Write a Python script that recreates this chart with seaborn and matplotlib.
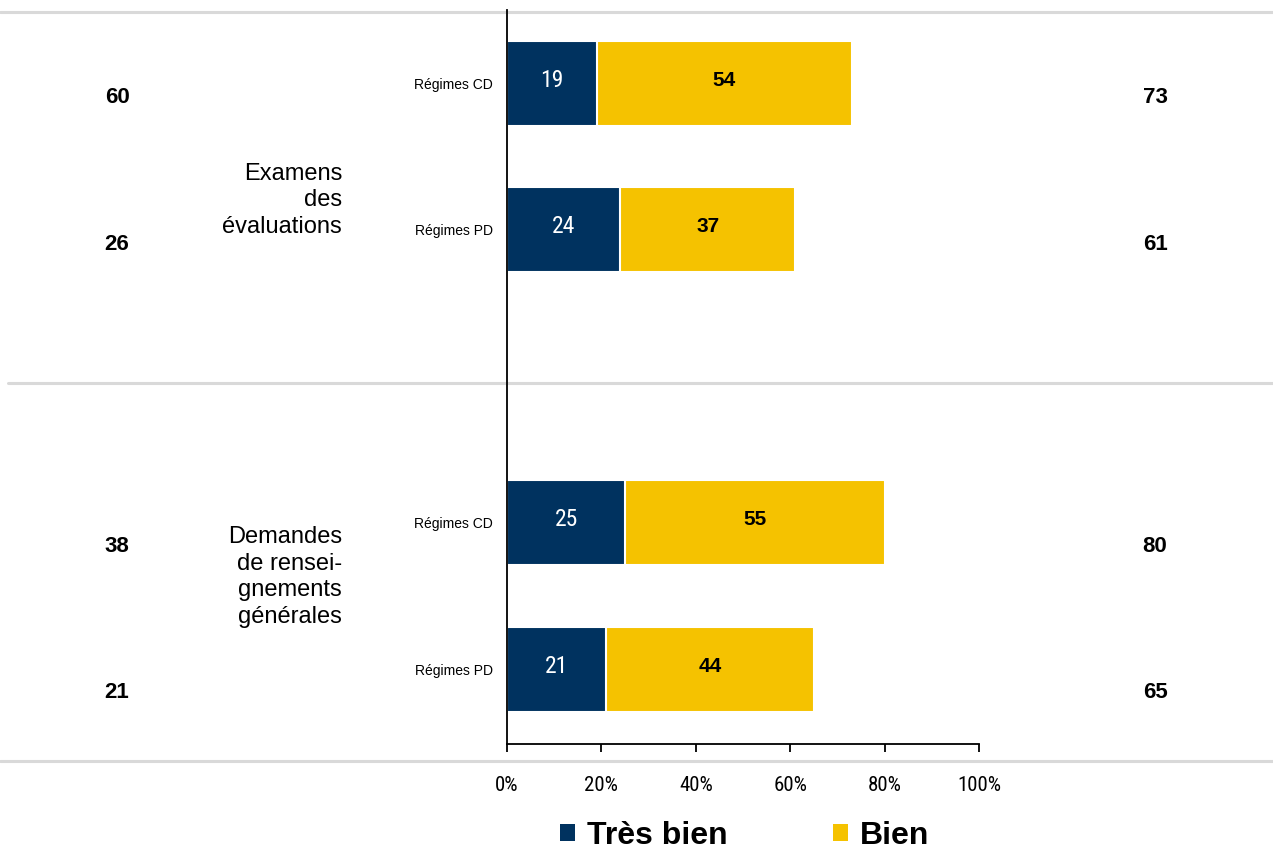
import numpy as np
import pandas as pd
import matplotlib
matplotlib.use("Agg")
import matplotlib.pyplot as plt
import matplotlib.transforms as mtransforms
from matplotlib import font_manager
from matplotlib.lines import Line2D
from matplotlib.patches import Patch
import seaborn as sns

# ---- data ----
groups = ["Examens\ndes\névaluations", "Demandes\nde rensei-\ngnements\ngénérales"]
categories = ["Régimes CD", "Régimes PD"]
tres_bien = [19, 24, 25, 21]
bien = [54, 37, 55, 44]
left_values = [60, 26, 38, 21]
right_totals = [73, 61, 80, 65]
tick_labels = ["0%", "20%", "40%", "60%", "80%", "100%"]
series_names = ["Très bien", "Bien"]

NAVY = "#00325F"
YELLOW = "#F5C200"
GRAY = "#D9D9D9"

sns.set_theme(style="white")
plt.rcParams["font.family"] = ["Liberation Sans", "DejaVu Sans"]
plt.rcParams["text.color"] = "black"
plt.rcParams["xtick.color"] = "black"
plt.rcParams["ytick.color"] = "black"
plt.rcParams["xtick.labelcolor"] = "black"
plt.rcParams["ytick.labelcolor"] = "black"

available = {f.name for f in font_manager.fontManager.ttflist}
NARROW = [n for n in ["Liberation Sans Narrow", "Arial Narrow", "Roboto Condensed",
                      "Open Sans Condensed"] if n in available] + ["Liberation Sans", "DejaVu Sans"]
narrow_ok = NARROW[0] != "Liberation Sans"

# row positions: groups separated by a blank slot
pos, labels, grp = [], [], []
for gi, g in enumerate(groups):
    for ci, c in enumerate(categories):
        pos.append(gi * 3 + ci)
        labels.append(c)
        grp.append(gi)

df = pd.DataFrame({"pos": pos, "cat": labels, "grp": grp, "tb": tres_bien, "b": bien})
df["total"] = df["tb"] + df["b"]

W, H = 1273, 852
fig = plt.figure(figsize=(W / 100, H / 100), dpi=100)

# separator lines (behind the axes)
for yp in [12, 383, 761]:
    x0 = 0 if yp != 383 else 8 / W
    fig.add_artist(Line2D([x0, 1], [1 - yp / H, 1 - yp / H], color=GRAY,
                          linewidth=2.2, transform=fig.transFigure, zorder=-1))

ax = fig.add_axes([507 / W, 1 - 744 / H, (979 - 507) / W, (744 - 10) / H])
ax.patch.set_visible(False)

sns.barplot(data=df, x="total", y="pos", orient="h", native_scale=True,
            color=YELLOW, width=0.58, ax=ax, saturation=1,
            edgecolor="white", linewidth=1.5)
sns.barplot(data=df, x="tb", y="pos", orient="h", native_scale=True,
            color=NAVY, width=0.58, ax=ax, saturation=1,
            edgecolor="white", linewidth=1.5)

ax.set_xlim(0, 100)
ax.set_ylim(4.51, -0.5)
ax.set_xlabel("")
ax.set_ylabel("")
ax.set_xticks(np.arange(0, 101, 20))
ax.set_xticklabels(tick_labels, fontsize=15 if narrow_ok else 13, family=NARROW)
ax.set_yticks(df["pos"])
ax.set_yticklabels(df["cat"], fontsize=10)
ax.tick_params(axis="y", length=0, pad=10)
ax.tick_params(axis="x", direction="out", length=6, width=1.3, color="black",
               pad=17, bottom=True)
for s in ["top", "right"]:
    ax.spines[s].set_visible(False)
for s in ["left", "bottom"]:
    ax.spines[s].set_color("black")
    ax.spines[s].set_linewidth(1.3)

# value labels inside bars
for _, r in df.iterrows():
    ax.text(r["tb"] / 2, r["pos"] - 0.02, f"{r['tb']}", color="white",
            fontsize=17 if narrow_ok else 14, family=NARROW, ha="center", va="center")
    ax.text(r["tb"] + r["b"] / 2, r["pos"] - 0.02, f"{r['b']}", color="black",
            fontsize=15, fontweight="bold", ha="center", va="center")

# side columns
tr = mtransforms.blended_transform_factory(fig.transFigure, ax.transData)
for p, g, lv, rv in zip(df["pos"], df["grp"], left_values, right_totals):
    off = 0.1 if g == 0 else 0.16
    fig.text(117 / W, p + off, f"{lv}", transform=tr, fontsize=16,
             fontweight="bold", ha="center", va="center")
    fig.text(1155 / W, p + off, f"{rv}", transform=tr, fontsize=16,
             fontweight="bold", ha="center", va="center")

# group labels
for gi, g in enumerate(groups):
    center = 0.80 if gi == 0 else 3.37
    fig.text(342 / W, center, g, transform=tr, fontsize=17, ha="right",
             va="center", linespacing=1.27)

# legend
handles = [Patch(facecolor=NAVY, edgecolor="none"),
           Patch(facecolor=YELLOW, edgecolor="none")]
fig.legend(handles, series_names, loc="center", bbox_to_anchor=(745 / W, 1 - 836 / H),
           ncol=2, frameon=False, prop={"size": 23, "weight": "bold"},
           handlelength=0.47, handleheight=0.47, handletextpad=0.37,
           columnspacing=3.3, borderpad=0, borderaxespad=0)

fig.savefig("out.png", dpi=100)
